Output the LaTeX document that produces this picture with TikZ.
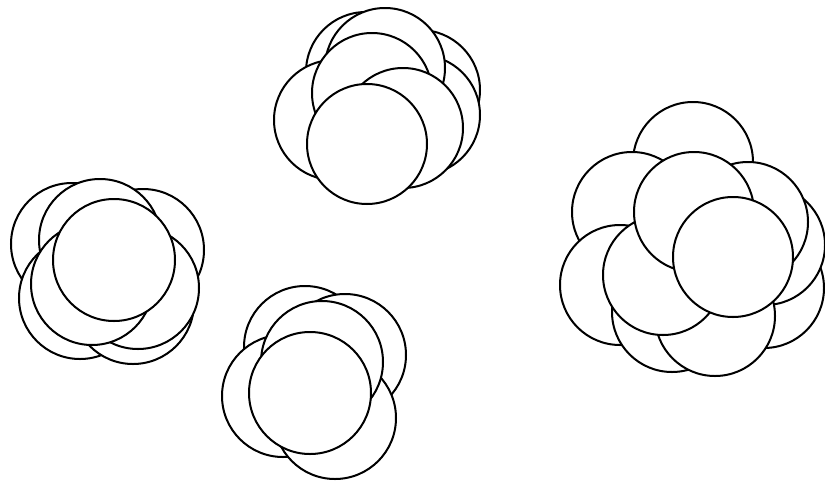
\documentclass[tikz,border=0pt]{standalone}
\begin{document}
\begin{tikzpicture}[x=1pt,y=-1pt,ball/.style={draw=black,fill=white,line width=2pt}]
  \useasboundingbox (0,0) rectangle (825,480);
  % top cluster, back to front
  \foreach \cx/\cy in {366/72,420/90,420/115,385/68,334/120,372/93,403/128,367/144}
    \filldraw[ball] (\cx,\cy) circle (60);
  % left cluster
  \foreach \cx/\cy in {72/244,80/298,143/250,133/303,100/240,138/288,92/284,114/260}
    \filldraw[ball] (\cx,\cy) circle (61);
  % bottom cluster
  \foreach \cx/\cy in {305/347,345/355,283/396,335/418,322/362,310/393}
    \filldraw[ball] (\cx,\cy) circle (61);
  % right cluster
  \foreach \cx/\cy in {693/162,764/288,765/245,632/212,748/222,620/285,672/312,715/316,663/275,694/212,733/257}
    \filldraw[ball] (\cx,\cy) circle (60);
\end{tikzpicture}
\end{document}
